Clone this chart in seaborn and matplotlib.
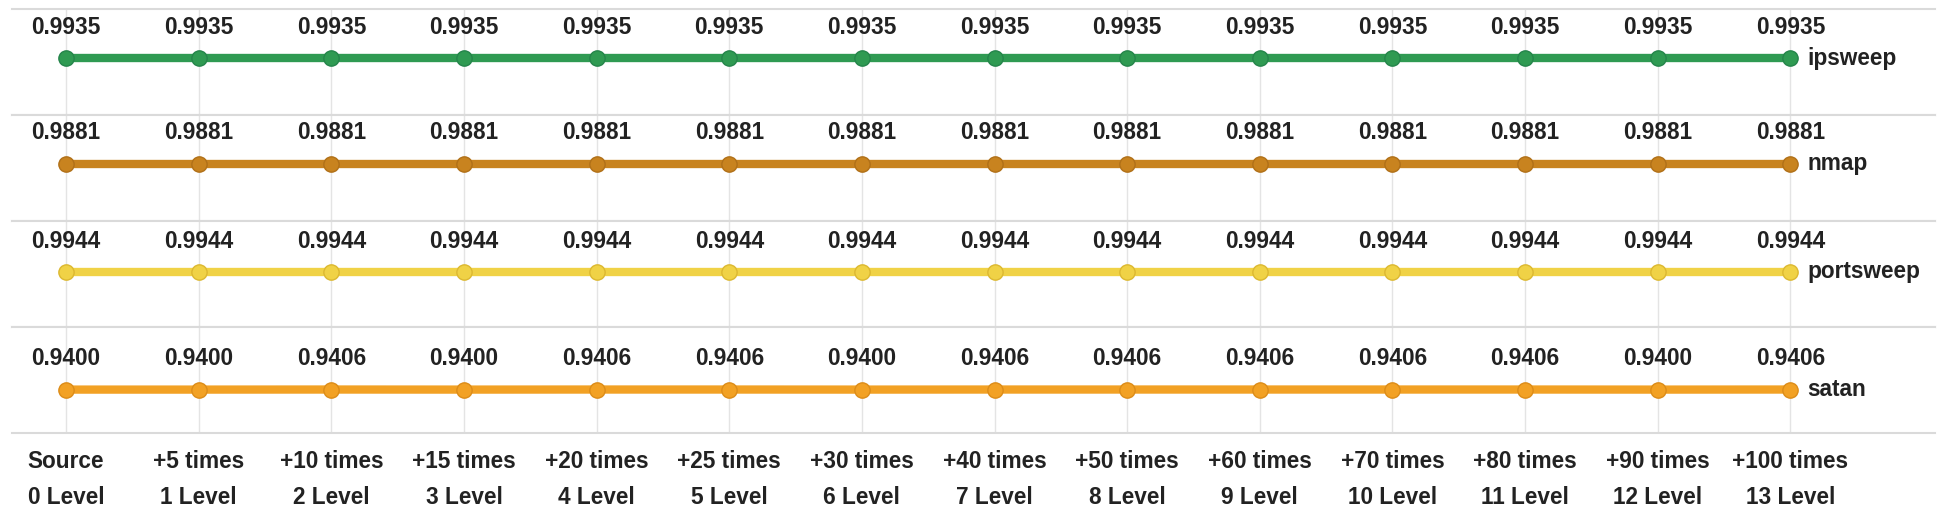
import pandas as pd
import matplotlib.pyplot as plt
import seaborn as sns

# Data
levels = ["Source\n0 Level", "+5 times\n1 Level", "+10 times\n2 Level", "+15 times\n3 Level",
          "+20 times\n4 Level", "+25 times\n5 Level", "+30 times\n6 Level", "+40 times\n7 Level",
          "+50 times\n8 Level", "+60 times\n9 Level", "+70 times\n10 Level", "+80 times\n11 Level",
          "+90 times\n12 Level", "+100 times\n13 Level"]
names = ["ipsweep", "nmap", "portsweep", "satan"]
ipsweep = [0.9935] * 14
nmap = [0.9881] * 14
portsweep = [0.9944] * 14
satan = [0.9400, 0.9400, 0.9406, 0.9400, 0.9406, 0.9406, 0.9400,
         0.9406, 0.9406, 0.9406, 0.9406, 0.9406, 0.9400, 0.9406]

colors = ["#2f9a52", "#c8831f", "#f0d246", "#f2a124"]
edges = ["#24844a", "#b07018", "#dcb830", "#dc8c18"]
# fraction of each row's height that lies below the line
row_anchor = [0.54, 0.54, 0.52, 0.41]

sns.set_style("white")
plt.rcParams['font.family'] = ['Liberation Sans', 'DejaVu Sans']

fig, axes = plt.subplots(4, 1, figsize=(19.48, 5.31), dpi=100, sharex=True)
fig.subplots_adjust(left=0.0062, right=0.9933, top=0.9825, bottom=0.1846, hspace=0)

x = list(range(len(levels)))
for ax, name, vals, color, edge, anc in zip(axes, names, [ipsweep, nmap, portsweep, satan],
                                            colors, edges, row_anchor):
    df = pd.DataFrame({"x": x, "value": vals})
    sns.lineplot(data=df, x="x", y="value", ax=ax, color=color, linewidth=6,
                 marker="o", markersize=11, markerfacecolor=color,
                 markeredgecolor=edge, markeredgewidth=1.0)
    mid = sum(vals) / len(vals)
    ax.set_ylim(mid - anc, mid + 1 - anc)
    ax.set_xlim(-0.407, 14.09)
    for xi, v in zip(x, vals):
        ax.annotate(f"{v:.4f}", (xi, v), xytext=(0, 14), textcoords="offset points",
                    ha="center", va="bottom", fontsize=16.3, fontweight="bold", color="#222222")
    ax.annotate(name, (x[-1], vals[-1]), xytext=(12, 0), textcoords="offset points",
                ha="left", va="center", fontsize=16.3, fontweight="bold", color="#222222")
    ax.set_yticks([])
    ax.set_ylabel("")
    ax.set_xlabel("")
    ax.set_xticks(x)
    ax.grid(axis="x", color="#e4e4e4", linewidth=1)
    for s in ["left", "right"]:
        ax.spines[s].set_visible(False)
    for s in ["top", "bottom"]:
        ax.spines[s].set_color("#dadada")
        ax.spines[s].set_linewidth(1.5)
    ax.tick_params(axis="x", length=0)

axes[-1].set_xticklabels(levels, fontsize=16.3, fontweight="bold", color="#222222",
                         linespacing=1.7)
axes[-1].tick_params(axis="x", length=53, color="#ececec", width=1, pad=-40.5)

plt.savefig("out.png", dpi=100)
plt.close()
